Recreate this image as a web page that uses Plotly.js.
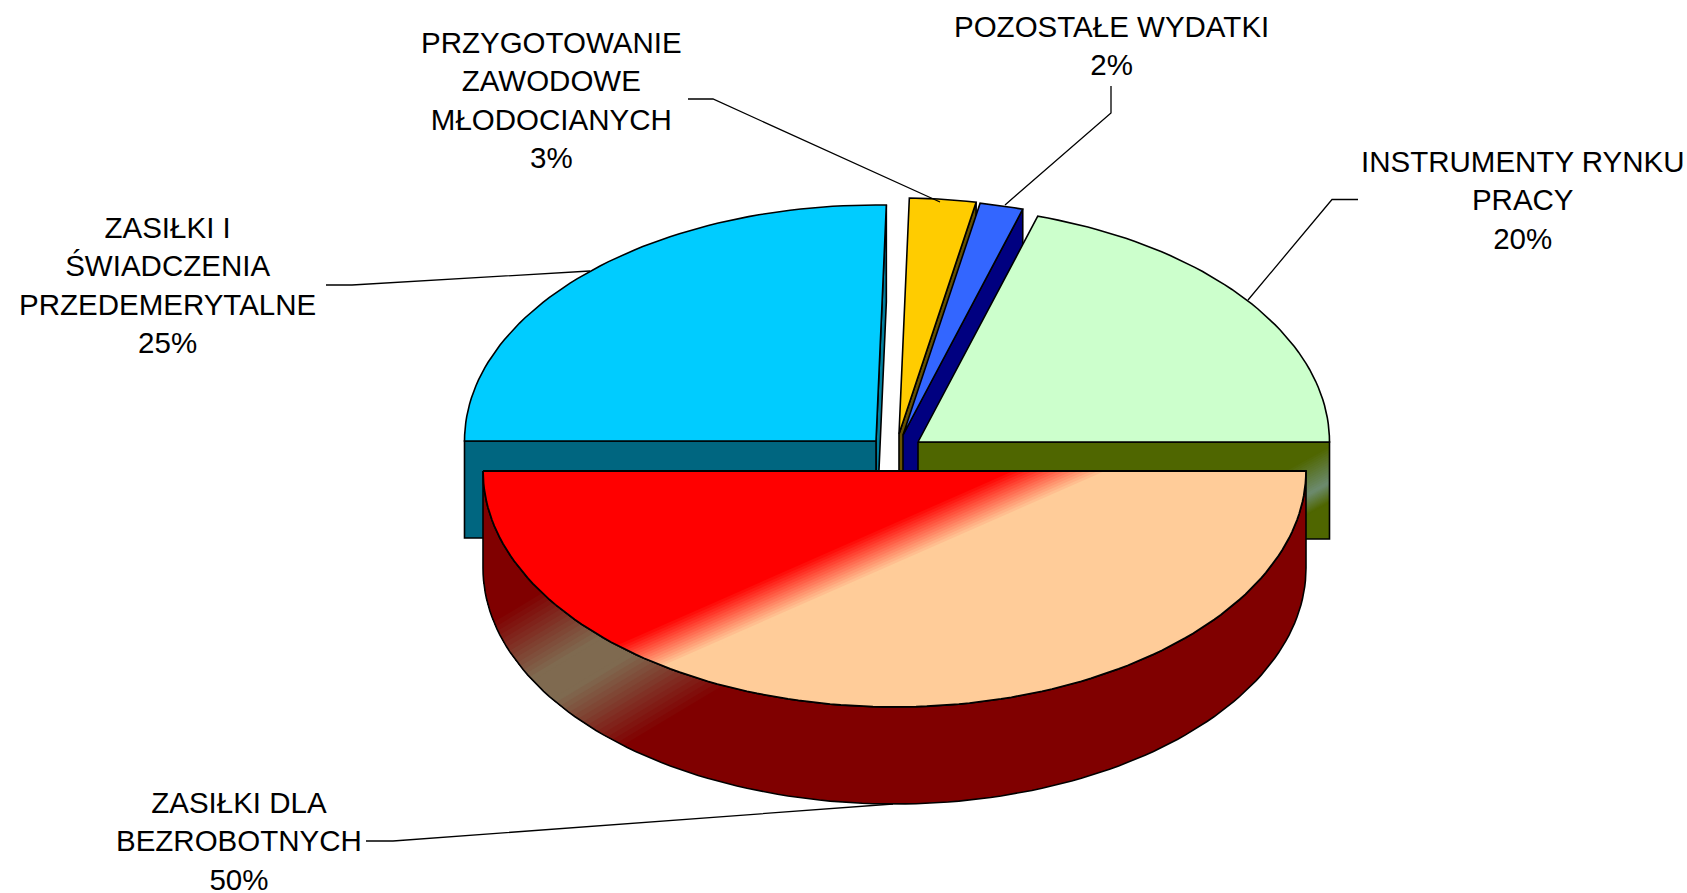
<!DOCTYPE html>
<html>
<head>
<meta charset="utf-8">
<script src="https://cdn.plot.ly/plotly-3.0.1.min.js"></script>
<style>html,body{margin:0;padding:0;background:#fff}#chart{width:1687px;height:893px}</style>
</head>
<body>
<div id="chart"></div>
<script>
// ---- data, counter-clockwise from the right-hand horizontal ----
var categories = ['INSTRUMENTY RYNKU<br>PRACY', 'POZOSTAŁE WYDATKI', 'PRZYGOTOWANIE<br>ZAWODOWE<br>MŁODOCIANYCH', 'ZASIŁKI I<br>ŚWIADCZENIA<br>PRZEDEMERYTALNE', 'ZASIŁKI DLA<br>BEZROBOTNYCH'];
var shares = [20.3, 1.7, 2.6, 25.4, 50];

// ---- styles and placement ----
var topColours = ['#CCFFCC', '#3366FF', '#FFCC00', '#00CCFF', '#FF0000'];
var wallColours = ['#4F6600', '#000080', '#665200', '#006680', '#800000'];
var centresX = [918, 903, 899, 876, 894.5];
var centresY = [442, 435, 434, 441, 471];
var radiusX = 411.5, radiusY = 236, depth = 97;
var labelX = [1522, 1111, 551.5, 167, 239];
var labelY = [199.5, 45.5, 99.5, 285, 841];
var leaderX = [[1358, 1332, 1248], [1111, 1111, 1005], [688, 713, 940], [326, 352, 590], [366, 393, 893]];
var leaderY = [[199.5, 199.5, 300], [86, 113, 205], [99, 99, 202], [285, 285, 271], [841, 841, 804]];

var traces = [];
function xs(p) { return p.map(function (q) { return q[0]; }); }
function ys(p) { return p.map(function (q) { return q[1]; }); }
function closed(p) { return p.concat([p[0]]); }
function addFill(p, colour) {
  traces.push({ type: 'scatter', mode: 'lines', x: xs(closed(p)), y: ys(closed(p)), fill: 'toself', fillcolor: colour, line: { width: 0, color: colour }, hoverinfo: 'skip', showlegend: false });
}
function addLine(p, colour, w, isClosed) {
  var q = isClosed ? closed(p) : p;
  traces.push({ type: 'scatter', mode: 'lines', x: xs(q), y: ys(q), line: { width: w, color: colour }, hoverinfo: 'skip', showlegend: false });
}
function addShape(p, colour) { addFill(p, colour); addLine(p, '#000', 1.6, true); }

function arc(i, a0, a1) {
  var out = [], n = Math.max(2, Math.ceil(Math.abs(a1 - a0) / 1.5));
  for (var k = 0; k <= n; k++) {
    var a = (a0 + (a1 - a0) * k / n) * Math.PI / 180;
    out.push([centresX[i] + radiusX * Math.cos(a), centresY[i] - radiusY * Math.sin(a)]);
  }
  return out;
}
function down(p) { return p.map(function (q) { return [q[0], q[1] + depth]; }); }
// radial cut face of a slice at angle a, pushed down by the depth
function radialWall(i, a) {
  var tip = [centresX[i], centresY[i]], rim = arc(i, a, a)[0];
  return [tip, rim, [rim[0], rim[1] + depth], [tip[0], tip[1] + depth]];
}
// keep the part of a polygon where a*x + y <= c
function clip(poly, a, c) {
  var out = [];
  for (var i = 0; i < poly.length; i++) {
    var p = poly[i], q = poly[(i + 1) % poly.length];
    var fp = a * p[0] + p[1] - c, fq = a * q[0] + q[1] - c;
    if (fp <= 0) out.push(p);
    if ((fp < 0 && fq > 0) || (fp > 0 && fq < 0)) {
      var s = fp / (fp - fq);
      out.push([p[0] + (q[0] - p[0]) * s, p[1] + (q[1] - p[1]) * s]);
    }
  }
  return out;
}
function hex(c) { return [parseInt(c.substr(1, 2), 16), parseInt(c.substr(3, 2), 16), parseInt(c.substr(5, 2), 16)]; }
function mix(c0, c1, s) {
  var a = hex(c0), b = hex(c1);
  return 'rgb(' + [0, 1, 2].map(function (k) { return Math.round(a[k] + (b[k] - a[k]) * s); }).join(',') + ')';
}
// diagonal gradient: stops are [t, colour], with t = a*x + y
function addGradient(poly, a, stops) {
  addFill(poly, stops[stops.length - 1][1]);
  for (var j = stops.length - 2; j >= 0; j--) {
    var t0 = stops[j][0], t1 = stops[j + 1][0], n = stops[j][1] === stops[j + 1][1] ? 1 : 16;
    for (var k = n - 1; k >= 0; k--) {
      var part = clip(poly, a, t0 + (t1 - t0) * (k + 1) / n);
      if (part.length > 2) addFill(part, mix(stops[j][1], stops[j + 1][1], k / Math.max(1, n - 1 + 0.0001)));
    }
  }
}

// angles from the shares
var startAngle = [], endAngle = [], run = 0;
shares.forEach(function (v) { startAngle.push(run); run += v * 3.6; endAngle.push(run); });
function topFace(i) {
  return [[centresX[i], centresY[i]]].concat(arc(i, startAngle[i], endAngle[i]));
}

// --- back slices, left to right so each one overlaps the previous wall
// cyan slice
addShape(radialWall(3, startAngle[3]), mix('#006680', '#00CCFF', 0.25));
addShape(radialWall(3, endAngle[3]), wallColours[3]);
addShape(topFace(3), topColours[3]);
// yellow slice
addShape(radialWall(2, startAngle[2]), wallColours[2]);
addShape(topFace(2), topColours[2]);
// blue slice
addShape(radialWall(1, startAngle[1]), wallColours[1]);
addShape(topFace(1), topColours[1]);
// green slice with the pale streak on its wall
var greenWall = radialWall(0, 0);
addGradient(greenWall, 0.55, [[1176, wallColours[0]], [1214, '#6C8A6C'], [1234, wallColours[0]]]);
addLine(greenWall, '#000', 1.6, true);
addShape(topFace(0), topColours[0]);

// --- front slice
var frontRim = arc(4, startAngle[4], endAngle[4]);
var frontWall = frontRim.concat(down(frontRim).reverse());
addGradient(frontWall, 0.6, [[913, wallColours[4]], [1000, '#7F6A50'], [1030, '#7F6A50'], [1125, wallColours[4]]]);
addLine(frontWall, '#000', 1.6, true);
var frontTop = [[frontRim[0][0], frontRim[0][1]]].concat(frontRim);
addGradient(frontTop, 0.44, [[914, topColours[4]], [960, '#FFCC99']]);
addLine(frontTop, '#000', 1.8, true);

// leader lines
leaderX.forEach(function (lx, i) {
  addLine(lx.map(function (x, k) { return [x, leaderY[i][k]]; }), '#000', 1.3, false);
});

var annotations = categories.map(function (name, i) {
  return {
    x: labelX[i], y: labelY[i], xref: 'x', yref: 'y', xanchor: 'center', yanchor: 'middle',
    text: name + '<br>' + Math.round(shares[i]) + '%', showarrow: false, align: 'center',
    font: { family: '"Liberation Sans", Arial, sans-serif', size: 29.5, color: '#000' }
  };
});

Plotly.newPlot('chart', traces, {
  width: 1687, height: 893, margin: { l: 0, r: 0, t: 0, b: 0 },
  paper_bgcolor: '#fff', plot_bgcolor: '#fff', showlegend: false, hovermode: false,
  xaxis: { range: [0, 1687], visible: false, fixedrange: true },
  yaxis: { range: [893, 0], visible: false, fixedrange: true },
  annotations: annotations
}, { displayModeBar: false, staticPlot: true });
</script>
</body>
</html>
